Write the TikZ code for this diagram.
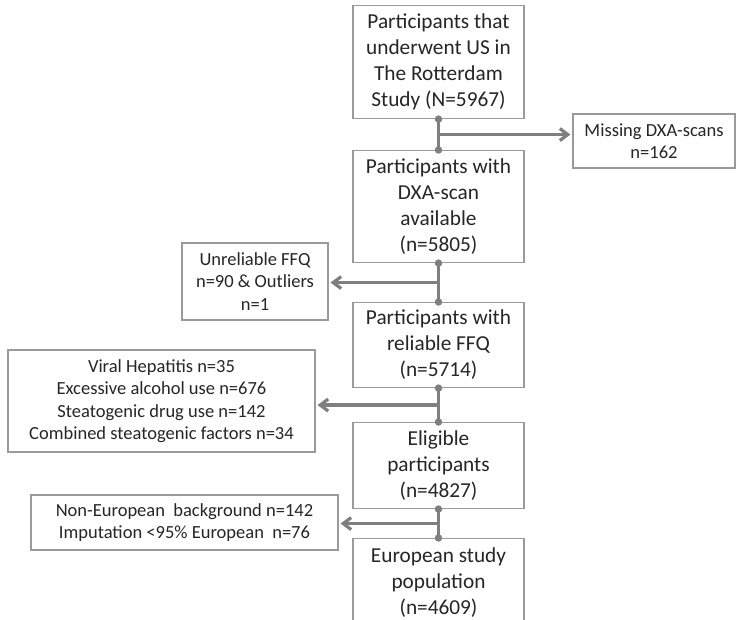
\documentclass[tikz,border=0pt]{standalone}
\usepackage{fontspec}
\setmainfont{Carlito}
\usetikzlibrary{positioning}
\usetikzlibrary{calc}
\usetikzlibrary{arrows.meta}

\definecolor{linkgray}{HTML}{7F7F7F}
\definecolor{boxgray}{HTML}{9A9A9A}
\definecolor{textgray}{HTML}{262626}

\begin{document}
\begin{tikzpicture}[
    x = 1pt,
    y = -1pt,
    link/.style = {draw = linkgray, line width = 3.2pt},
    dot/.style = {circle, fill = linkgray, inner sep = 0pt, minimum size = 7.5pt},
    barb/.style = {-{Straight Barb[length=8pt, width=12pt]}, shorten >=2pt},
    ]

    \tikzstyle{mainbox}=[
    draw = boxgray,
    line width = 1.1pt,
    fill = white,
    text = textgray,
    align = center,
    minimum width = 171pt,
    inner sep = 0pt,
    anchor = north,
    font = \fontsize{21.3}{26}\selectfont,
    ]

    \tikzstyle{sidebox}=[
    draw = boxgray,
    line width = 1.1pt,
    fill = white,
    text = textgray,
    align = center,
    inner sep = 0pt,
    font = \fontsize{18.5}{22.5}\selectfont,
    ]

    \clip (0,0) rectangle (736,620);

    \node[mainbox, minimum height=113pt] (us) at (438.5,5) {Participants that\\underwent US in\\The Rotterdam\\Study (N=5967)};
    \node[mainbox, minimum height=112pt] (dxa) at (438.5,150) {Participants with\\DXA-scan\\available\\(n=5805)};
    \node[mainbox, minimum height=85pt] (ffq) at (438.5,302) {Participants with\\reliable FFQ\\(n=5714)};
    \node[mainbox, minimum height=86pt] (elig) at (438.5,422) {Eligible\\participants\\(n=4827)};
    \node[mainbox, minimum height=88pt] (euro) at (438.5,538) {European study\\population\\(n=4609)};

    \node[sidebox, minimum width=162pt, minimum height=54pt] (nodxa) at (654,141) {Missing DXA-scans\\n=162};
    \node[sidebox, minimum width=146pt, minimum height=77pt] (unrel) at (255,281.5) {Unreliable FFQ\\n=90 \& Outliers\\n=1};
    \node[sidebox, minimum width=307pt, minimum height=102pt] (excl) at (161.5,401) {Viral Hepatitis n=35\\Excessive alcohol use n=676\\Steatogenic drug use n=142\\Combined steatogenic factors n=34};
    \node[sidebox, minimum width=307pt, minimum height=55pt] (noneu) at (184.5,522.5) {Non-European~ background n=142\\Imputation {<}95\% European~ n=76};

    \coordinate (j1) at ($(us.south)!0.5!(dxa.north)$);
    \coordinate (j2) at ($(dxa.south)!0.5!(ffq.north)$);
    \coordinate (j3) at ($(ffq.south)!0.5!(elig.north)$);
    \coordinate (j4) at ($(elig.south)!0.5!(euro.north)$);

    \draw[link] (us.south) node[dot] {} -- (dxa.north) node[dot] {};
    \draw[link] (dxa.south) node[dot] {} -- (ffq.north) node[dot] {};
    \draw[link] (ffq.south) node[dot] {} -- (elig.north) node[dot] {};
    \draw[link] (elig.south) node[dot] {} -- (euro.north) node[dot] {};

    \draw[link, barb] (j1) -- (j1 -| nodxa.west);
    \draw[link, barb] (j2) -- (j2 -| unrel.east);
    \draw[link, barb] (j3) -- (j3 -| excl.east);
    \draw[link, barb] (j4) -- (j4 -| noneu.east);
  \end{tikzpicture}
\end{document}
